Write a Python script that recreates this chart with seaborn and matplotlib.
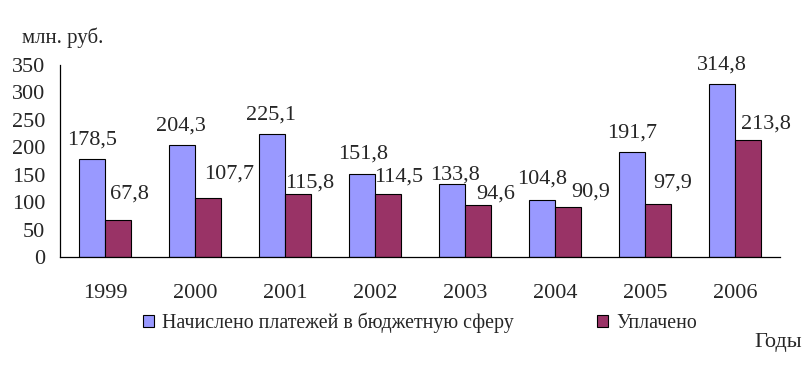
import matplotlib.pyplot as plt
import pandas as pd
import seaborn as sns

sns.set_style("white")
plt.rcParams["font.family"] = ["Liberation Serif", "DejaVu Serif"]

# Data
years = ["1999", "2000", "2001", "2002", "2003", "2004", "2005", "2006"]
accrued = [178.5, 204.3, 225.1, 151.8, 133.8, 104.8, 191.7, 314.8]
paid = [67.8, 107.7, 115.8, 114.5, 94.6, 90.9, 97.9, 213.8]
series_names = ["Начислено платежей в бюджетную сферу", "Уплачено"]

# hand-placed label offsets (pixels): horizontal shift, gap above bar top
label_dx = [
    [0, -1, -1, 1, 3, 0, 0, 0],
    [11, 21, 12, 11, 18, 23, 15, 18],
]
label_gap = [
    [15, 15, 14, 15, 4, 16, 14, 15],
    [22, 20, 6, 13, 7, 11, 16, 11],
]

df = pd.DataFrame({
    "year": years * 2,
    "value": accrued + paid,
    "series": [series_names[0]] * len(years) + [series_names[1]] * len(years),
})

colors = ["#9999FF", "#993366"]

fig = plt.figure(figsize=(8.12, 3.66), dpi=100)
ax = fig.add_axes([60 / 812, 1 - 257.3 / 366, 720 / 812, 192.3 / 366])

sns.barplot(
    data=df, x="year", y="value", hue="series", order=years,
    hue_order=series_names, palette=colors, width=0.578,
    edgecolor="black", linewidth=0.8, saturation=1, ax=ax,
)

# value labels
for k, container in enumerate(ax.containers):
    for i, bar in enumerate(container.patches):
        h = bar.get_height()
        ax.annotate(
            f"{h:.1f}".replace(".", ","),
            (bar.get_x() + bar.get_width() / 2, h),
            xytext=(label_dx[k][i], label_gap[k][i]),
            textcoords="offset pixels", ha="center", va="baseline",
            fontsize=16, annotation_clip=False,
        )

ax.set_ylim(0, 350)
ax.set_yticks(range(0, 351, 50))
ax.set_xlim(-0.5, len(years) - 0.5)
ax.set_xticks([i - 0.5 for i in range(len(years) + 1)], minor=True)
ax.tick_params(axis="x", which="major", length=0, labelsize=16, pad=19)
ax.tick_params(axis="x", which="minor", length=5, width=0.8,
               direction="out", color="black")
ax.tick_params(axis="y", length=6, width=0.8, direction="out",
               labelsize=16, color="black", pad=4.5)
ax.set_xlabel("")
ax.set_ylabel("")
for s in ["top", "right"]:
    ax.spines[s].set_visible(False)
for s in ["left", "bottom"]:
    ax.spines[s].set_color("black")
    ax.spines[s].set_linewidth(0.9)

ax.legend(
    loc="center left", bbox_to_anchor=(143 / 812, 1 - 323 / 366),
    bbox_transform=fig.transFigure, ncol=2, frameon=False,
    fontsize=14.3, handlelength=0.55, handleheight=0.55, handletextpad=0.4,
    columnspacing=4.2, borderaxespad=0, borderpad=0,
)

fig.text(22 / 812, 1 - 43 / 366, "млн. руб.", fontsize=15, va="baseline")
fig.text(802 / 812, 1 - 347 / 366, "Годы", fontsize=16, va="baseline", ha="right")

plt.savefig("out.png", dpi=100)
